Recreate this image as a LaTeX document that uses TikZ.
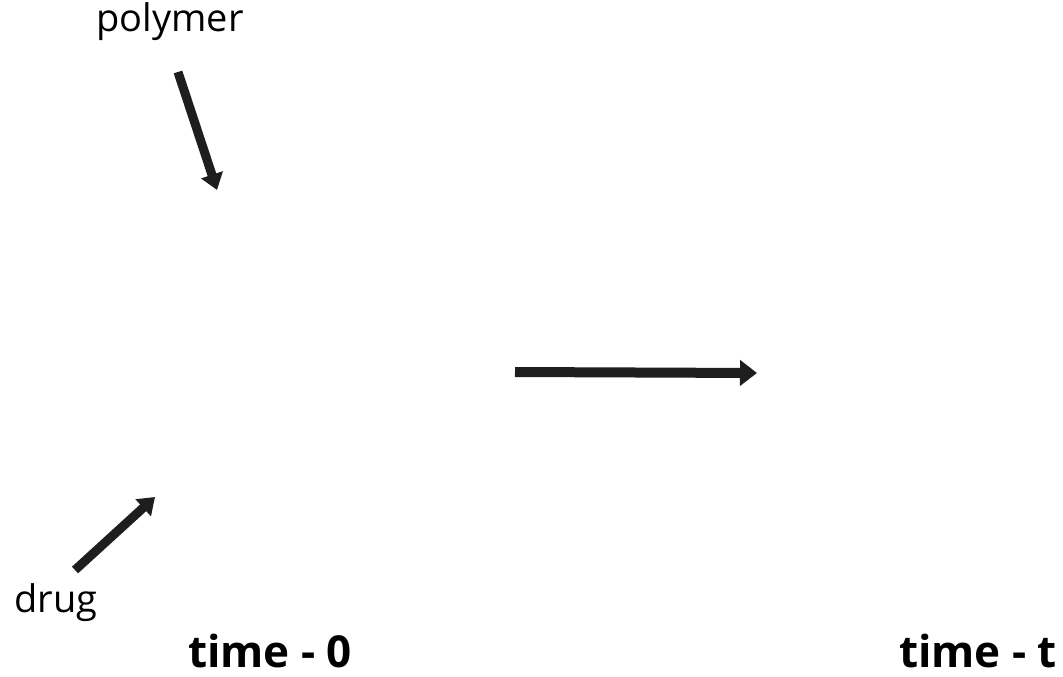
\documentclass[tikz,border=0pt]{standalone}
\usepackage{fontspec}
\setmainfont{Open Sans}
\usetikzlibrary{arrows.meta}
\tikzset{
  px/.style={x=1pt,y=-1pt},
  bigarrow/.style={line width=10pt, draw={rgb,255:red,30;green,30;blue,30}, -{Triangle[length=17pt,width=25pt]}},
  smallarrow/.style={line width=9pt, draw={rgb,255:red,30;green,30;blue,30}, -{Triangle[length=16pt,width=22pt]}},
  lbl/.style={font=\fontsize{38}{40}\selectfont, inner sep=0pt, anchor=base},
  timelbl/.style={font=\fontsize{44}{46}\selectfont\bfseries, inner sep=0pt, anchor=base}
}
\begin{document}
\begin{tikzpicture}[px]
\useasboundingbox[fill=white] (0,0) rectangle (1063,677);
\node[lbl] (polymer) at (170,32) {polymer};
\node[lbl] (drug) at (56,612) {drug};
\node[timelbl] (t0) at (270,667) {time - 0};
\node[timelbl] (tt) at (978,667) {time - t};
\coordinate (pstart) at (178,72);
\coordinate (ptip) at (217,190);
\coordinate (dstart) at (75,570);
\coordinate (dtip) at (155,497);
\coordinate (mstart) at (515,372);
\coordinate (mtip) at (757,373);
\draw[smallarrow] (pstart) -- (ptip);
\draw[smallarrow] (dstart) -- (dtip);
\draw[bigarrow] (mstart) -- (mtip);
\end{tikzpicture}
\end{document}
